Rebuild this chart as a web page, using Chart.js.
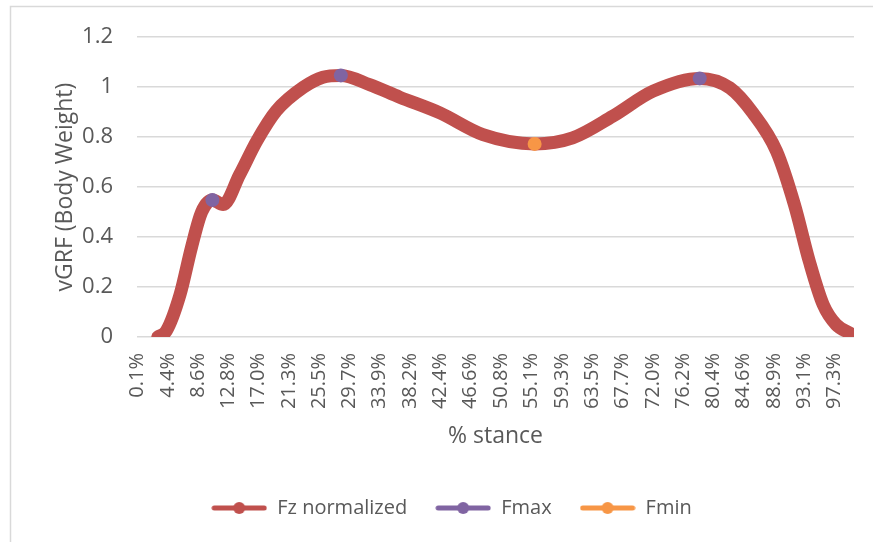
<!DOCTYPE html>
<html>
<head>
<meta charset="utf-8">
<script src="https://cdn.jsdelivr.net/npm/chart.js@4.4.1/dist/chart.umd.min.js"></script>
<style>
  html, body { margin: 0; padding: 0; background: #fff; }
  #wrap { width: 873px; height: 542px; }
</style>
</head>
<body>
<div id="wrap"><canvas id="grf"></canvas></div>
<script>
// ---------------- Data ----------------
const stancePct = [3.0, 4.2, 6.1, 7.7, 9.1, 10.6, 12.1, 14.4, 16.8, 19.5, 23.3, 26.0, 28.5, 32.5, 36.7,
  42.3, 48.3, 55.5, 60.8, 66.4, 72.0, 78.5, 82.7, 85.9, 89.2, 91.7, 93.8, 95.7, 97.5, 99.6];
const fzNormalized = [0.0, 0.025, 0.17, 0.36, 0.50, 0.548, 0.53, 0.65, 0.785, 0.905, 1.0, 1.04, 1.047, 1.01, 0.96,
  0.897, 0.81, 0.773, 0.797, 0.884, 0.984, 1.035, 0.997, 0.897, 0.744, 0.53, 0.30, 0.13, 0.05, 0.013];
const fmaxPct = [10.6, 28.5, 78.5];
const fmaxVal = [0.548, 1.047, 1.035];
const fminPct = [55.5];
const fminVal = [0.773];
const xTickLabels = [0.1, 4.4, 8.6, 12.8, 17.0, 21.3, 25.5, 29.7, 33.9, 38.2, 42.4, 46.6, 50.8,
  55.1, 59.3, 63.5, 67.7, 72.0, 76.2, 80.4, 84.6, 88.9, 93.1, 97.3];

const RED = "#C0504D", PURPLE = "#8064A2", ORANGE = "#F79646";
const TXT = "#595959";
const FONT = "'Open Sans', sans-serif";

const toXY = (xs, ys) => xs.map((x, i) => ({ x, y: ys[i] }));

// legend swatch: short line with a dot in the middle (Excel style)
function swatch(color) {
  const c = document.createElement("canvas");
  c.width = 56; c.height = 14;
  const g = c.getContext("2d");
  g.strokeStyle = color;
  g.lineWidth = 5;
  g.lineCap = "round";
  g.beginPath(); g.moveTo(3, 7); g.lineTo(53, 7); g.stroke();
  g.fillStyle = color;
  g.beginPath(); g.arc(28, 7, 6, 0, Math.PI * 2); g.fill();
  return c;
}

const frame = {
  id: "frame",
  beforeDraw(chart) {
    const g = chart.ctx;
    g.save();
    g.fillStyle = "#fff";
    g.fillRect(0, 0, chart.width, chart.height);
    g.strokeStyle = "#d9d9d9";
    g.lineWidth = 1.5;
    g.strokeRect(10.5, 6.5, 900, 600);
    g.restore();
  }
};

new Chart(document.getElementById("grf"), {
  type: "line",
  data: {
    datasets: [
      {
        label: "Fz normalized",
        data: toXY(stancePct, fzNormalized),
        borderColor: RED,
        backgroundColor: RED,
        borderWidth: 13,
        borderCapStyle: "round",
        borderJoinStyle: "round",
        cubicInterpolationMode: "monotone",
        pointRadius: 0,
        order: 3,
      },
      {
        label: "Fmax",
        data: toXY(fmaxPct, fmaxVal),
        showLine: false,
        borderColor: PURPLE,
        backgroundColor: PURPLE,
        pointRadius: 7,
        pointBorderWidth: 0,
        order: 1,
      },
      {
        label: "Fmin",
        data: toXY(fminPct, fminVal),
        showLine: false,
        borderColor: ORANGE,
        backgroundColor: ORANGE,
        pointRadius: 7,
        pointBorderWidth: 0,
        order: 2,
      },
    ],
  },
  options: {
    responsive: true,
    maintainAspectRatio: false,
    animation: false,
    layout: { padding: { left: 49, top: 36, right: 19, bottom: 14 } },
    plugins: {
      tooltip: { enabled: false },
      legend: {
        position: "bottom",
        maxHeight: 73,
        labels: {
          usePointStyle: true,
          pointStyleWidth: 56,
          boxHeight: 14,
          padding: 28,
          color: TXT,
          font: { family: FONT, size: 20 },
          generateLabels(chart) {
            return chart.data.datasets.map((ds, i) => ({
              text: ds.label,
              pointStyle: swatch(ds.borderColor),
              fillStyle: ds.borderColor,
              strokeStyle: ds.borderColor,
              lineWidth: 0,
              fontColor: TXT,
              datasetIndex: i,
            }));
          },
        },
      },
    },
    scales: {
      x: {
        type: "linear",
        min: 0.1,
        max: 100,
        grid: { display: false },
        border: { display: false },
        afterBuildTicks(scale) {
          scale.ticks = xTickLabels.map((v) => ({ value: v }));
        },
        afterFit(scale) { scale.height = 133; },
        ticks: {
          autoSkip: false,
          minRotation: 90,
          maxRotation: 90,
          padding: 8,
          color: TXT,
          font: { family: FONT, size: 20 },
          callback: (v) => Number(v).toFixed(1) + "%",
        },
        title: {
          display: true,
          text: "% stance",
          color: TXT,
          font: { family: FONT, size: 23 },
          padding: { top: 0, bottom: 20 },
        },
      },
      y: {
        min: 0,
        max: 1.2,
        grid: { color: "#d9d9d9", lineWidth: 1.5, drawTicks: false },
        border: { display: false },
        afterFit(scale) { scale.width = 88; },
        ticks: {
          stepSize: 0.2,
          padding: 24,
          color: TXT,
          font: { family: FONT, size: 22 },
          callback: (v) => String(+Number(v).toFixed(1)),
        },
        title: {
          display: true,
          text: "vGRF (Body Weight)",
          color: TXT,
          font: { family: FONT, size: 23 },
          padding: { top: 3, bottom: 0 },
        },
      },
    },
  },
  plugins: [frame],
});
</script>
</body>
</html>
